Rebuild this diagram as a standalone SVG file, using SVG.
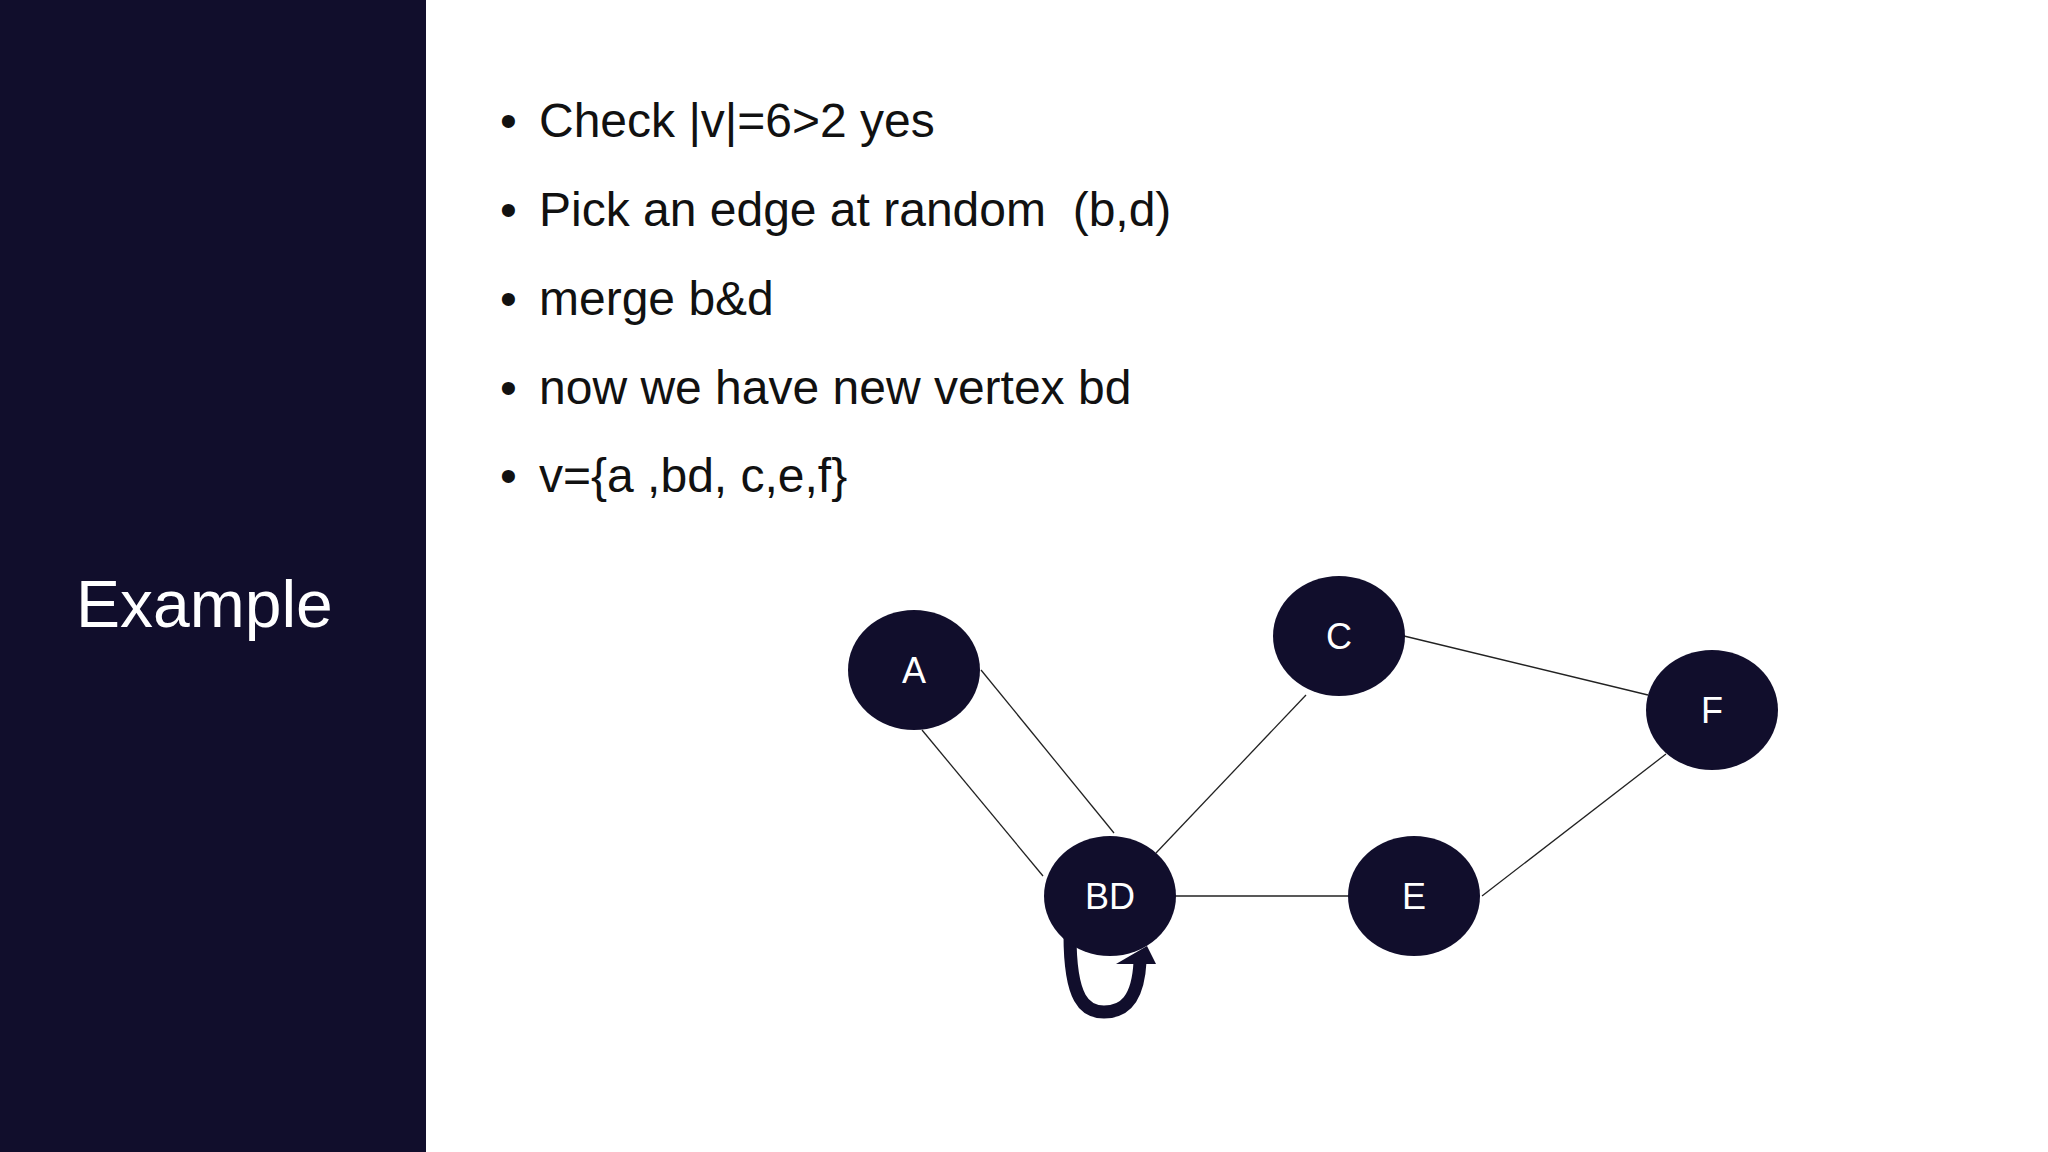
<svg xmlns="http://www.w3.org/2000/svg" width="2048" height="1152" viewBox="0 0 2048 1152">
<style>
.b{font-family:"Liberation Sans",Arial,sans-serif;font-size:48px;fill:#111}
.n ellipse{fill:#110e2c}
.n text{font-family:"Liberation Sans",Arial,sans-serif;font-size:36px;fill:#fff;text-anchor:middle}
#edges line{stroke:#222;stroke-width:1.3}
</style>
<rect width="2048" height="1152" fill="#fff"/>
<rect width="426" height="1152" fill="#110e2c"/>
<text x="76" y="627" font-family="Liberation Sans, Arial, sans-serif" font-size="66" fill="#fff">Example</text>
<g>
<text class="b" x="500" y="137">•</text><text class="b" x="539" y="137">Check |v|=6&gt;2 yes</text>
<text class="b" x="500" y="226">•</text><text class="b" x="539" y="226" xml:space="preserve">Pick an edge at random  (b,d)</text>
<text class="b" x="500" y="315">•</text><text class="b" x="539" y="315">merge b&amp;d</text>
<text class="b" x="500" y="404">•</text><text class="b" x="539" y="404">now we have new vertex bd</text>
<text class="b" x="500" y="492">•</text><text class="b" x="539" y="492">v={a ,bd, c,e,f}</text>
</g>
<g id="edges">
<line x1="981" y1="670" x2="1114" y2="833"/>
<line x1="922" y1="730" x2="1043" y2="876"/>
<line x1="1156" y1="853" x2="1306" y2="695"/>
<line x1="1175" y1="896" x2="1349" y2="896"/>
<line x1="1404" y1="636" x2="1648" y2="695"/>
<line x1="1482" y1="896" x2="1666" y2="754"/>
<path d="M1070,935 C1070,1000 1085,1012 1104,1012 C1124,1012 1138,1000 1140,962" fill="none" stroke="#110e2c" stroke-width="13"/>
<polygon points="1116,964 1147,946 1156,964" fill="#110e2c"/>
</g>
<g id="A" class="n"><ellipse cx="914" cy="670" rx="66" ry="60"/><text x="914" y="683">A</text></g>
<g id="C" class="n"><ellipse cx="1339" cy="636" rx="66" ry="60"/><text x="1339" y="649">C</text></g>
<g id="F" class="n"><ellipse cx="1712" cy="710" rx="66" ry="60"/><text x="1712" y="723">F</text></g>
<g id="BD" class="n"><ellipse cx="1110" cy="896" rx="66" ry="60"/><text x="1110" y="909">BD</text></g>
<g id="E" class="n"><ellipse cx="1414" cy="896" rx="66" ry="60"/><text x="1414" y="909">E</text></g>
</svg>
